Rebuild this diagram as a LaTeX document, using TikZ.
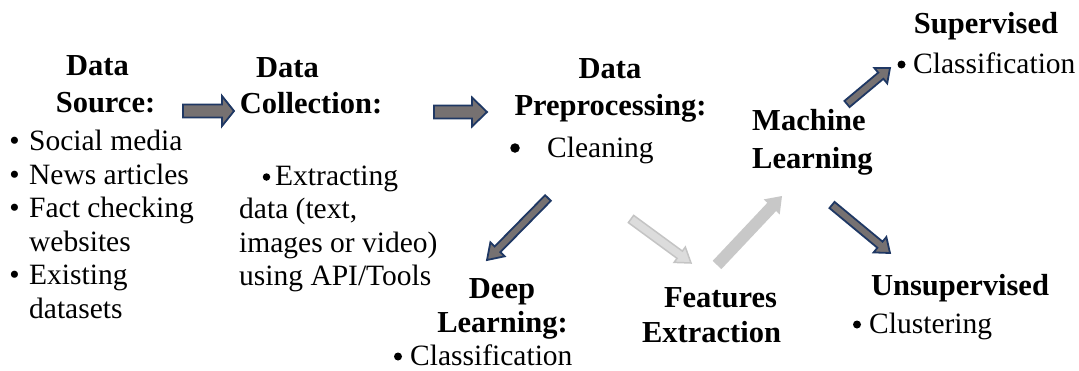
\documentclass[tikz,border=0pt]{standalone}
\usepackage{fontspec}
\setmainfont{Liberation Serif}
\usetikzlibrary{calc}
\definecolor{arrfill}{HTML}{767171}
\definecolor{arrline}{HTML}{1F3864}
\definecolor{lfillA}{HTML}{DCDCDC}
\definecolor{llineA}{HTML}{C4C4C4}
\definecolor{lfillB}{HTML}{C8C8C8}
\newcommand\fsz{\fontsize{29.5}{33.5}\selectfont}
\newcommand\fszb{\fontsize{30.5}{34}\selectfont\bfseries}
% #1 style, #2 tail, #3 tip, #4 shaft half width, #5 head half width, #6 head length
\newcommand\blockarrow[6]{%
  \coordinate (bah) at ($(#3)!#6!(#2)$);
  \draw[#1] ($(#2)!#4!90:(#3)$) -- ($(bah)!#4!90:(#3)$) -- ($(bah)!#5!90:(#3)$) -- (#3)
    -- ($(bah)!#5!-90:(#3)$) -- ($(bah)!#4!-90:(#3)$) -- ($(#2)!#4!-90:(#3)$) -- cycle;}
\begin{document}
\begin{tikzpicture}[x=1pt,y=-1pt,
  txt/.style={inner sep=0pt, anchor=base west, font=\fsz},
  hd/.style={inner sep=0pt, anchor=base, font=\fszb},
  bul/.style={inner sep=0pt, anchor=base, font=\fsz},
  dot/.style={circle, fill=black, inner sep=0pt, minimum size=#1},
  dot/.default=8pt,
  darr/.style={fill=arrfill, draw=arrline, line width=1.8pt, line join=miter},
  larrA/.style={fill=lfillA, draw=llineA, line width=1.5pt, line join=miter},
  larrB/.style={fill=lfillB, draw=none}]
\useasboundingbox (0,0) rectangle (1079,370);

% Data Source
\node[hd] (dsA) at (97.5,75) {Data};
\node[hd] (dsB) at (105.5,112) {Source:};
\node[bul] (sb1) at (14.5,150.5) {•}; \node[txt] (s1) at (29,150.5) {Social media};
\node[bul] (sb2) at (14.5,184) {•}; \node[txt] (s2) at (29,184) {News articles};
\node[bul] (sb3) at (14.5,217.5) {•}; \node[txt] (s3) at (29,217.5) {Fact checking};
\node[txt] (s3b) at (29,251) {websites};
\node[bul] (sb4) at (14.5,284.5) {•}; \node[txt] (s4) at (29,284.5) {Existing};
\node[txt] (s4b) at (29,318) {datasets};

% Data Collection
\node[hd] (dcA) at (287.5,77) {Data};
\node[hd] (dcB) at (311,113) {Collection:};
\node[dot=7.5pt] (cb) at (266.5,177) {}; \node[txt] (c1) at (275,185) {Extracting};
\node[txt] (c2) at (239,218.5) {data (text,};
\node[txt] (c3) at (239,252) {images or video)};
\node[txt] (c4) at (239,285.5) {using API/Tools};

% Data Preprocessing
\node[hd] (dpA) at (610,78) {Data};
\node[hd] (dpB) at (610.5,115) {Preprocessing:};
\node[dot=9.5pt] (pb) at (515,148) {}; \node[txt] (p1) at (547,157) {Cleaning};

% Deep Learning
\node[hd] (dlA) at (502,298) {Deep};
\node[hd] (dlB) at (502.5,332) {Learning:};
\node[dot] (lb) at (398,356.5) {}; \node[txt] (l1) at (410,365) {Classification};

% Features Extraction
\node[hd] (feA) at (720.5,307) {Features};
\node[hd] (feB) at (711.5,342) {Extraction};

% Machine Learning
\node[hd, anchor=base west] (mlA) at (752,130) {Machine};
\node[hd, anchor=base west] (mlB) at (752,168) {Learning};

% Supervised
\node[hd] (svA) at (986,33) {Supervised};
\node[dot] (svb) at (901.5,64.5) {}; \node[txt] (sv1) at (913,73) {Classification};

% Unsupervised
\node[hd] (usA) at (960,295) {Unsupervised};
\node[dot] (usb) at (857,324.5) {}; \node[txt] (us1) at (869,333) {Clustering};

% arrow end points
\coordinate (a1s) at (183,111); \coordinate (a1e) at (234,111);
\coordinate (a2s) at (434,112); \coordinate (a2e) at (487,112);
\coordinate (a3s) at (548,198); \coordinate (a3e) at (487,260);
\coordinate (a4s) at (631,219); \coordinate (a4e) at (691,263);
\coordinate (a5s) at (717,265); \coordinate (a5e) at (782,196);
\coordinate (a6s) at (847,104); \coordinate (a6e) at (890,68);
\coordinate (a7s) at (832,205); \coordinate (a7e) at (890,253);

\blockarrow{darr}{a1s}{a1e}{6.5pt}{15pt}{12pt}
\blockarrow{darr}{a2s}{a2e}{6.5pt}{14.5pt}{15pt}
\blockarrow{darr}{a3s}{a3e}{4pt}{10pt}{15pt}
\blockarrow{larrA}{a4s}{a4e}{4.5pt}{9.5pt}{14pt}
\blockarrow{larrB}{a5s}{a5e}{6pt}{11pt}{15pt}
\blockarrow{darr}{a6s}{a6e}{4pt}{10pt}{12pt}
\blockarrow{darr}{a7s}{a7e}{4pt}{10pt}{13pt}
\end{tikzpicture}
\end{document}
